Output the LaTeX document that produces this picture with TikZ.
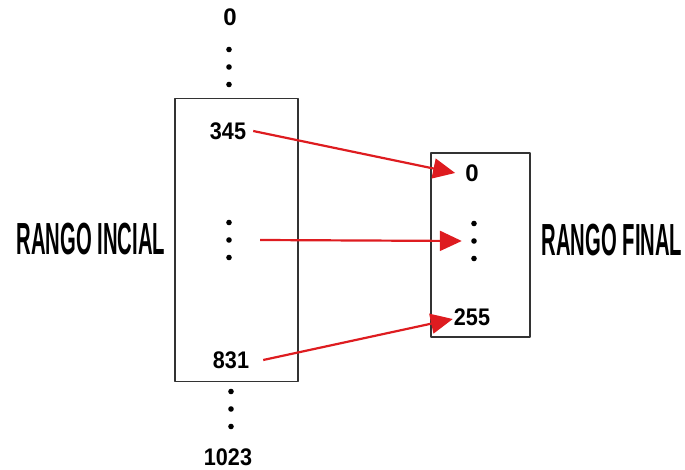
\documentclass[tikz,border=0pt]{standalone}
\usepackage{fontspec}
\setmainfont{Liberation Sans}
\usepackage{graphicx}
\usetikzlibrary{arrows.meta}
\definecolor{rojo}{RGB}{222,28,32}
\tikzset{
  caja/.style={draw=black!80, line width=1.1pt, inner sep=0pt},
  num/.style={font=\fontsize{24}{24}\selectfont\bfseries, inner sep=1pt},
  titulo/.style={font=\fontsize{45}{45}\selectfont\bfseries, inner sep=0pt},
  puntos/.style={minimum width=8, minimum height=44, inner sep=0pt,
    path picture={\foreach \k in {-1,0,1}
      \fill (path picture bounding box.center) ++(0,\k*17.5) circle (2.8);}},
  flecha/.style={-{Triangle[length=22pt,width=20pt]}, rojo, line width=2.2pt}
}
\begin{document}
\begin{tikzpicture}[x=1pt,y=-1pt, line join=round]
  \useasboundingbox (0,0) rectangle (685,470);
  % cajas
  \node (cajaIni) [caja, minimum width=123, minimum height=283] at (236.5,240) {};
  \node (cajaFin) [caja, minimum width=99, minimum height=184] at (480.5,245) {};
  % rango inicial
  \node (ini0) [num] at (230,17) {0};
  \node (puntosA) [puntos] at (229,67) {};
  \node (n345) [num] at (228,131) {\scalebox{0.9}[1]{345}};
  \node (puntosB) [puntos] at (229,240) {};
  \node (n831) [num] at (231,360) {\scalebox{0.9}[1]{831}};
  \node (puntosC) [puntos] at (231,409) {};
  \node (n1023) [num] at (228,457) {\scalebox{0.9}[1]{1023}};
  % rango final
  \node (fin0) [num] at (472,173) {0};
  \node (puntosD) [puntos] at (474,241) {};
  \node (n255) [num] at (472,317) {\scalebox{0.9}[1]{255}};
  % titulos
  \node (tIni) [titulo] at (91,239) {\scalebox{0.45}[1]{RANGO INCIAL}};
  \node (tFin) [titulo] at (612,240) {\scalebox{0.45}[1]{RANGO FINAL}};
  % flechas
  \draw[flecha] ([xshift=6]n345.east) -- ([xshift=-9]fin0.west);
  \draw[flecha] ([xshift=27]puntosB.east) -- ([xshift=-8]puntosD.west);
  \draw[flecha] ([xshift=13]n831.east) -- ([yshift=-2]n255.west);
\end{tikzpicture}
\end{document}
